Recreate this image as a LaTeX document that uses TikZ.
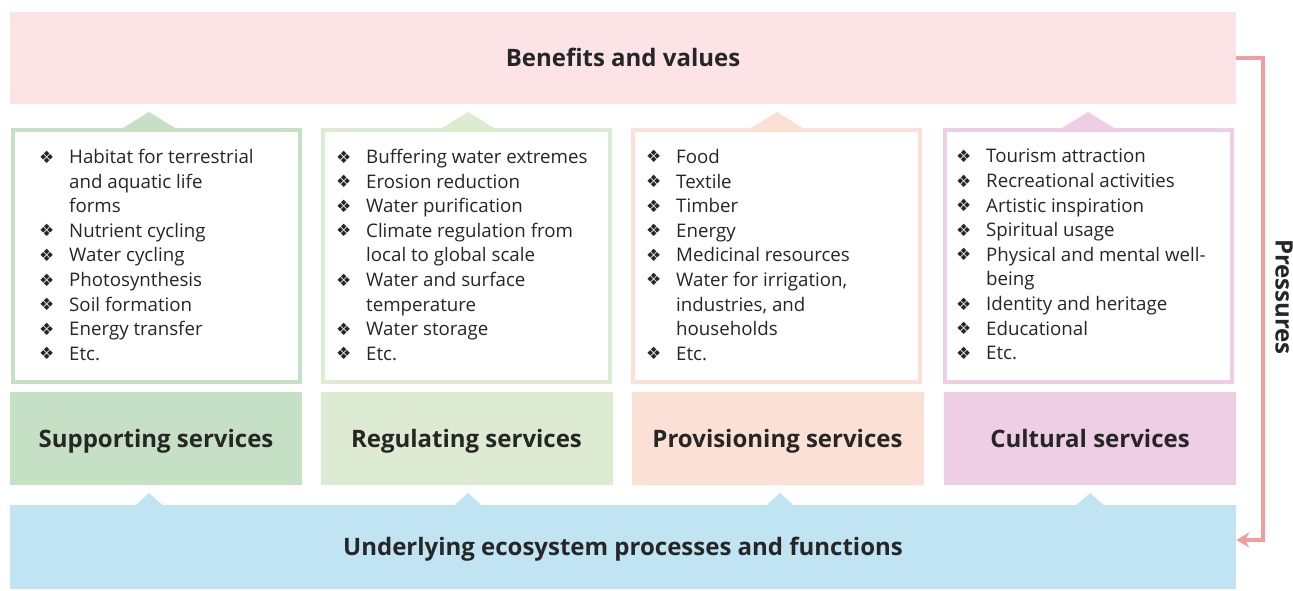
\documentclass[tikz,border=0pt]{standalone}
\usepackage{fontspec}
\setmainfont{Open Sans}
\newfontfamily\bulletfont{DejaVu Sans}
\usetikzlibrary{positioning,arrows.meta}

\definecolor{benefitpink}{HTML}{FCE4E6}
\definecolor{supportgreen}{HTML}{C5E0C4}
\definecolor{regulgreen}{HTML}{DDEBD3}
\definecolor{provpeach}{HTML}{FBE1D5}
\definecolor{cultpink}{HTML}{EDCEE5}
\definecolor{procblue}{HTML}{C0E4F2}
\definecolor{pressred}{HTML}{F29E9F}
\definecolor{txt}{HTML}{262626}

\newcommand{\bul}{\makebox[30pt][l]{\raisebox{0.5pt}{\bulletfont\fontsize{17}{17}\selectfont ❖}}}
\newcommand{\ind}{\hspace*{30pt}}

\tikzset{
  band/.style={inner sep=0pt, text=txt, text height=17pt, text depth=0pt, font=\bfseries\fontsize{24}{28}\selectfont},
  servicebox/.style={band, minimum width=292pt, minimum height=93pt},
  listbox/.style={draw, line width=4pt, fill=white, minimum width=287pt, minimum height=252pt, inner sep=0pt},
  listtext/.style={anchor=north west, align=left, inner sep=0pt, text=txt, font=\fontsize{18.7}{24.6}\selectfont},
  pressure/.style={draw=pressred, line width=3.5pt, ->},
}

\begin{document}
\begin{tikzpicture}[>={Stealth[length=13pt,width=15pt]},x=1pt,y=-1pt]
	\useasboundingbox (0,0) rectangle (1293,590);
	% top and bottom bands
	\node[band, fill=benefitpink, minimum width=1226pt, minimum height=92pt] (benefits) at (623,58) {Benefits and values};
	\node[band, fill=procblue, minimum width=1226pt, minimum height=84pt] (processes) at (623,547) {Underlying ecosystem processes and functions};
	% small triangles
	\foreach \x/\c in {149/supportgreen,468/regulgreen,777/provpeach,1088/cultpink}
		\fill[\c] (\x-26,128) -- (\x,112) -- (\x+26,128) -- cycle;
	\foreach \x in {149,468,780,1090}
		\fill[procblue] (\x-14,505.5) -- (\x,493) -- (\x+14,505.5) -- cycle;
	% list boxes
	\node[listbox, draw=supportgreen] (supportlist) at (156.5,256) {};
	\node[listbox, draw=regulgreen] (regullist) at (466,256) {};
	\node[listbox, draw=provpeach] (provlist) at (776.5,256) {};
	\node[listbox, draw=cultpink] (cultlist) at (1088,256) {};
	\node[listtext] (supporttext) at (39,149) {\bul Habitat for terrestrial\\ \ind and aquatic life\\ \ind forms\\ \bul Nutrient cycling\\ \bul Water cycling\\ \bul Photosynthesis\\ \bul Soil formation\\ \bul Energy transfer\\ \bul Etc.};
	\node[listtext] (regultext) at (336,149) {\bul Buffering water extremes\\ \bul Erosion reduction\\ \bul Water purification\\ \bul Climate regulation from\\ \ind local to global scale\\ \bul Water and surface\\ \ind temperature\\ \bul Water storage\\ \bul Etc.};
	\node[listtext] (provtext) at (646,149) {\bul Food\\ \bul Textile\\ \bul Timber\\ \bul Energy\\ \bul Medicinal resources\\ \bul Water for irrigation,\\ \ind industries, and\\ \ind households\\ \bul Etc.};
	\node[listtext] (culttext) at (956,149) {\bul Tourism attraction\\ \bul Recreational activities\\ \bul Artistic inspiration\\ \bul Spiritual usage\\ \bul Physical and mental well-\\ \ind being\\ \bul Identity and heritage\\ \bul Educational\\ \bul Etc.};
	% service boxes
	\node[servicebox, fill=supportgreen] (supporting) at (156,438.5) {Supporting services};
	\node[servicebox, fill=regulgreen] (regulating) at (466.5,438.5) {Regulating services};
	\node[servicebox, fill=provpeach] (provisioning) at (777.5,438.5) {Provisioning services};
	\node[servicebox, fill=cultpink] (cultural) at (1090,438.5) {Cultural services};
	% pressures loop
	\draw[pressure] (benefits.east) -- ++(27,0) |- ([yshift=7pt]processes.east);
	\node[band, rotate=-90] (pressures) at (1284,297) {Pressures};
\end{tikzpicture}
\end{document}
